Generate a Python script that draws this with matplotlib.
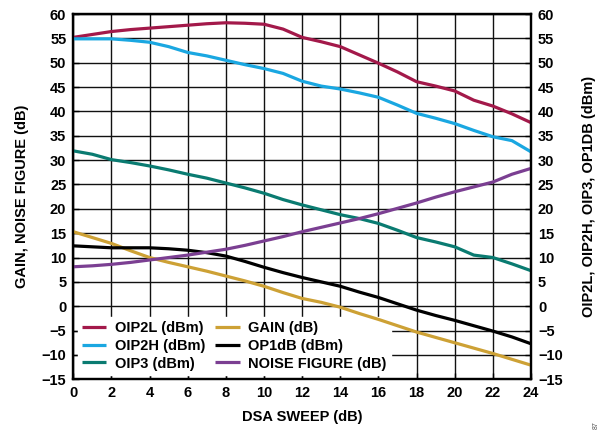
import matplotlib
matplotlib.use("Agg")
import matplotlib.pyplot as plt

plt.rcParams['font.family'] = ['Liberation Sans', 'DejaVu Sans']
plt.rcParams['font.weight'] = 'bold'

dsa = [0, 1, 2, 3, 4, 5, 6, 7, 8, 9, 10, 11, 12, 13, 14, 15, 16, 17, 18, 19, 20, 21, 22, 23, 24]

oip2l = [55.2, 55.8, 56.4, 56.8, 57.1, 57.4, 57.7, 58.0, 58.2, 58.1, 57.9, 56.9, 55.2, 54.3, 53.3, 51.6, 49.9, 48.1, 46.1, 45.2, 44.2, 42.3, 41.1, 39.5, 37.7]
oip2h = [54.9, 54.9, 54.9, 54.6, 54.2, 53.3, 52.1, 51.4, 50.5, 49.6, 48.8, 47.8, 46.2, 45.2, 44.6, 43.8, 42.9, 41.3, 39.6, 38.6, 37.5, 36.1, 34.8, 34.0, 31.7]
oip3 = [31.9, 31.2, 30.1, 29.5, 28.8, 28.0, 27.1, 26.3, 25.3, 24.3, 23.2, 21.9, 20.8, 19.8, 18.8, 18.0, 17.0, 15.6, 14.1, 13.2, 12.2, 10.5, 10.0, 8.7, 7.3]
gain = [15.3, 14.1, 12.9, 11.4, 10.0, 9.0, 8.1, 7.2, 6.2, 5.2, 4.1, 2.8, 1.6, 0.8, -0.2, -1.5, -2.7, -4.0, -5.3, -6.4, -7.5, -8.6, -9.7, -10.9, -12.1]
op1db = [12.4, 12.2, 12.0, 12.0, 12.0, 11.8, 11.5, 11.0, 10.3, 9.2, 8.0, 6.9, 5.9, 5.0, 4.1, 2.9, 1.8, 0.5, -0.8, -1.9, -2.9, -4.0, -5.1, -6.3, -7.7]
noise_figure = [8.1, 8.3, 8.6, 9.0, 9.5, 10.0, 10.5, 11.1, 11.7, 12.5, 13.4, 14.3, 15.3, 16.2, 17.1, 18.0, 19.0, 20.1, 21.2, 22.4, 23.5, 24.5, 25.5, 27.1, 28.3]

x_ticks = list(range(0, 25, 2))
y_ticks = list(range(-15, 61, 5))

FS = 10.5

fig = plt.figure(figsize=(6.14, 4.36), dpi=100)
ax = fig.add_axes([73.3 / 614, 1 - 379.3 / 436, (531 - 73.3) / 614, (379.3 - 14) / 436])

lw = 2.3
series = [
    (oip2l, '#A3194A', 'OIP2L (dBm)'),
    (oip2h, '#1AA7E1', 'OIP2H (dBm)'),
    (oip3, '#0A7B71', 'OIP3 (dBm)'),
    (gain, '#CDA135', 'GAIN (dB)'),
    (op1db, '#000000', 'OP1dB (dBm)'),
    (noise_figure, '#7B3F92', 'NOISE FIGURE (dB)'),
]
for vals, col, lab in series:
    ax.plot(dsa, vals, color=col, lw=lw, label=lab, solid_capstyle='butt', zorder=3)

ax.set_xlim(0, 24)
ax.set_ylim(-15, 60)
ax.set_xticks(x_ticks)
ax.set_yticks(y_ticks)
ax.grid(True, color='#111111', lw=1.0, zorder=1)
ax.set_axisbelow(True)
for s in ax.spines.values():
    s.set_linewidth(1.6)
    s.set_color('black')
ax.tick_params(direction='in', length=4, width=1.0, labelsize=FS, pad=5)
ax.set_xlabel('DSA SWEEP (dB)', fontsize=FS, fontweight='bold', labelpad=7)
ax.set_ylabel('GAIN, NOISE FIGURE (dB)', fontsize=FS, fontweight='bold', labelpad=9)

ax2 = ax.twinx()
ax2.set_ylim(-15, 60)
ax2.set_yticks(y_ticks)
ax2.tick_params(direction='in', length=4, width=1.0, labelsize=FS, pad=5)
ax2.set_ylabel('OIP2L, OIP2H, OIP3, OP1DB (dBm)', fontsize=FS, fontweight='bold', labelpad=14)
for s in ax2.spines.values():
    s.set_linewidth(1.6)

leg = ax.legend(loc='lower left', ncol=2, frameon=True, fancybox=False,
                fontsize=FS, handlelength=1.65, handletextpad=0.6,
                columnspacing=0.7, labelspacing=0.25, borderpad=0.3,
                bbox_to_anchor=(0.0, 0.0), borderaxespad=0.3)
leg.get_frame().set_edgecolor('white')
leg.get_frame().set_facecolor('white')
leg.get_frame().set_alpha(1.0)
leg.set_zorder(2)
for t in leg.get_texts():
    t.set_fontweight('bold')

fig.text(596 / 614, 1 - 425 / 436, '87', rotation=90, fontsize=5, color='#555555',
         ha='center', va='center', fontweight='normal')

fig.savefig('out.png', dpi=100)
